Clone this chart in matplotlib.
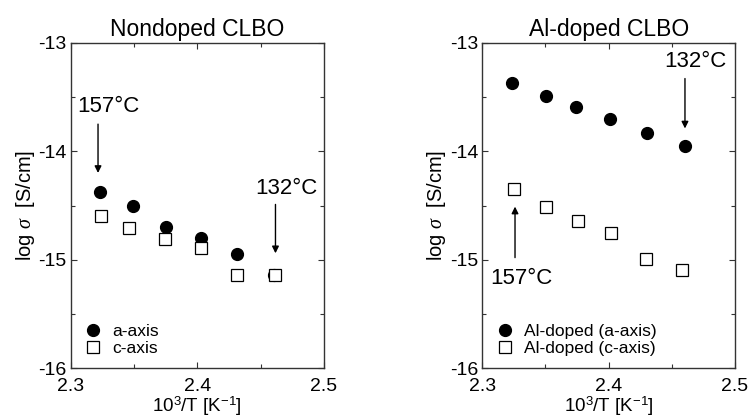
import matplotlib
matplotlib.use("Agg")
import matplotlib.pyplot as plt
from matplotlib.ticker import MultipleLocator, FormatStrFormatter

plt.rcParams['font.family'] = ['Liberation Sans', 'DejaVu Sans']
plt.rcParams['mathtext.fontset'] = 'custom'
plt.rcParams['mathtext.rm'] = 'Liberation Sans'
plt.rcParams['mathtext.it'] = 'Liberation Serif:italic'

# Nondoped CLBO
nd_x_a = [2.323, 2.349, 2.375, 2.403, 2.4315, 2.4607]
nd_y_a = [-14.38, -14.505, -14.70, -14.80, -14.95, -15.14]
nd_x_c = [2.324, 2.3463, 2.3743, 2.403, 2.4312, 2.4617]
nd_y_c = [-14.60, -14.71, -14.81, -14.89, -15.14, -15.14]

# Al-doped CLBO
al_x_a = [2.3233, 2.3504, 2.3744, 2.4013, 2.4306, 2.4604]
al_y_a = [-13.375, -13.49, -13.59, -13.705, -13.83, -13.955]
al_x_c = [2.3251, 2.3504, 2.376, 2.4019, 2.4298, 2.4581]
al_y_c = [-14.35, -14.515, -14.645, -14.755, -14.995, -15.09]

fig = plt.figure(figsize=(7.51, 4.19), dpi=100)
ax1 = fig.add_axes([0.0941, 0.121, 0.3373, 0.777])
ax2 = fig.add_axes([0.6422, 0.121, 0.3365, 0.777])


def style(ax, title):
    ax.set_xlim(2.3, 2.5)
    ax.set_ylim(-16, -13)
    ax.xaxis.set_major_locator(MultipleLocator(0.1))
    ax.xaxis.set_minor_locator(MultipleLocator(0.05))
    ax.yaxis.set_major_locator(MultipleLocator(1))
    ax.yaxis.set_minor_locator(MultipleLocator(0.5))
    ax.xaxis.set_major_formatter(FormatStrFormatter('%.1f'))
    ax.yaxis.set_major_formatter(FormatStrFormatter('%d'))
    ax.tick_params(which='both', direction='in', top=True, right=True,
                   labelsize=14, color='#333333')
    ax.tick_params(axis='y', pad=3)
    ax.tick_params(axis='x', pad=7)
    ax.tick_params(which='major', length=4, width=0.8)
    ax.tick_params(which='minor', length=3, width=0.8)
    for s in ax.spines.values():
        s.set_color('#333333')
        s.set_linewidth(1.0)
    ax.set_title(title, fontsize=16.5, pad=5)
    ax.set_xlabel(r'10$^3$/T [K$^{-1}$]', fontsize=13.5, labelpad=0)
    ax.set_ylabel(r'log $\sigma$  [S/cm]', fontsize=14.5, labelpad=1)


style(ax1, 'Nondoped CLBO')
style(ax2, 'Al-doped CLBO')

ax1.plot(nd_x_a, nd_y_a, 'o', color='black', markersize=8.5, label='a-axis')
ax1.plot(nd_x_c, nd_y_c, 's', mfc='white', mec='black', mew=0.9,
         markersize=8, label='c-axis')
ax2.plot(al_x_a, al_y_a, 'o', color='black', markersize=8.5,
         label='Al-doped (a-axis)')
ax2.plot(al_x_c, al_y_c, 's', mfc='white', mec='black', mew=0.9,
         markersize=8, label='Al-doped (c-axis)')

for ax in (ax1, ax2):
    ax.legend(loc='lower left', frameon=False, fontsize=12.5, handletextpad=0.5,
              labelspacing=0.1, borderaxespad=0.3, handlelength=1.2,
              bbox_to_anchor=(0.0, 0.0))

arrow = dict(arrowstyle='-|>', color='black', lw=1.0, mutation_scale=10,
             shrinkA=0, shrinkB=0)
ax1.annotate('', xy=(2.3216, -14.20), xytext=(2.3216, -13.75), arrowprops=arrow)
ax1.text(2.3295, -13.59, '157°C', fontsize=16, ha='center', va='center')
ax1.annotate('', xy=(2.4617, -14.94), xytext=(2.4617, -14.49), arrowprops=arrow)
ax1.text(2.47, -14.34, '132°C', fontsize=16, ha='center', va='center')

ax2.annotate('', xy=(2.4604, -13.79), xytext=(2.4604, -13.33), arrowprops=arrow)
ax2.text(2.4683, -13.175, '132°C', fontsize=16, ha='center', va='center')
ax2.annotate('', xy=(2.3259, -14.51), xytext=(2.3259, -14.98), arrowprops=arrow)
ax2.text(2.3312, -15.175, '157°C', fontsize=16, ha='center', va='center')

fig.savefig('out.png', dpi=100)
